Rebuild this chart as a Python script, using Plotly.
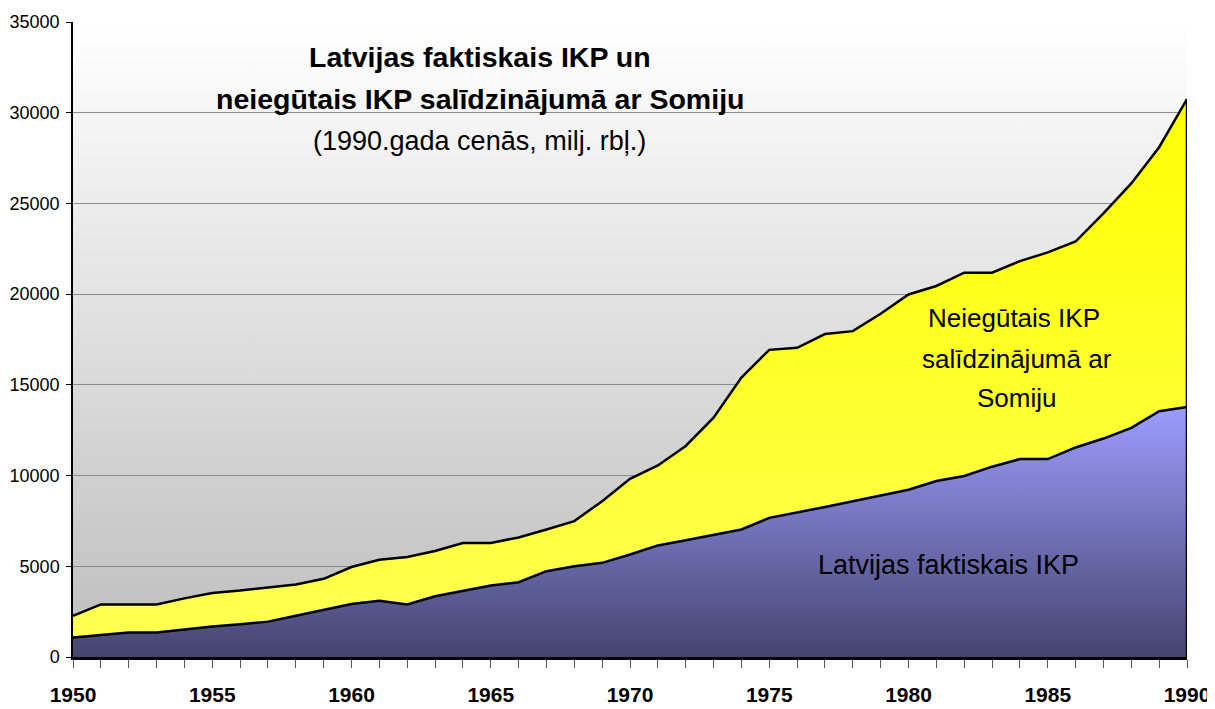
import base64
import plotly.graph_objects as go

years = list(range(1950, 1991))

# Latvijas faktiskais IKP (milj. rbļ., 1990. gada cenās)
latvija = [1080, 1220, 1350, 1350, 1530, 1680, 1810, 1950, 2270, 2610,
           2920, 3100, 2900, 3350, 3650, 3940, 4120, 4730, 5000, 5190,
           5650, 6150, 6440, 6750, 7030, 7670, 7990, 8270, 8580, 8900,
           9220, 9700, 9980, 10490, 10910, 10910, 11550, 12040, 12630, 13550,
           13780]

# IKP līmenis salīdzinājumā ar Somiju (augšējā līnija)
somija = [2270, 2900, 2900, 2900, 3230, 3530, 3660, 3810, 4000, 4310,
          4960, 5360, 5510, 5840, 6280, 6290, 6590, 7030, 7490, 8590,
          9820, 10560, 11630, 13190, 15400, 16930, 17040, 17800, 17960, 18920,
          19980, 20450, 21180, 21180, 21820, 22300, 22900, 24450, 26100, 28100,
          30750]

y_ticks = [0, 5000, 10000, 15000, 20000, 25000, 30000, 35000]
x_ticks = [1950, 1955, 1960, 1965, 1970, 1975, 1980, 1985, 1990]

FONT = "Liberation Sans, Arial, sans-serif"

# gray plot-area background gradient as an inline svg
svg = (
    '<svg xmlns="http://www.w3.org/2000/svg" width="10" height="100" preserveAspectRatio="none">'
    '<defs><linearGradient id="g" x1="0" y1="0" x2="0" y2="1">'
    '<stop offset="0" stop-color="#ffffff"/><stop offset="1" stop-color="#bdbdbd"/>'
    '</linearGradient></defs><rect width="10" height="100" fill="url(#g)"/></svg>'
)
bg_src = "data:image/svg+xml;base64," + base64.b64encode(svg.encode()).decode()

fig = go.Figure()

fig.add_trace(go.Scatter(
    x=years, y=latvija, mode="lines",
    line=dict(color="black", width=2.5),
    fill="tozeroy",
    fillgradient=dict(type="vertical", start=0, stop=max(latvija),
                      colorscale=[[0, "#45456f"], [1, "#9c9cff"]]),
    name="Latvijas faktiskais IKP",
))

fig.add_trace(go.Scatter(
    x=years, y=somija, mode="lines",
    line=dict(color="black", width=2.5),
    fill="tonexty",
    fillgradient=dict(type="vertical", start=0, stop=max(somija),
                      colorscale=[[0, "#ffff55"], [1, "#ffff00"]]),
    name="Neiegūtais IKP",
))

# right edge of the area
fig.add_trace(go.Scatter(
    x=[years[-1], years[-1]], y=[0, somija[-1]], mode="lines",
    line=dict(color="black", width=2.5), hoverinfo="skip",
))

# the page body adds an 8px offset, so the figure is 8px smaller
fig.update_layout(
    width=1207, height=701,
    margin=dict(l=65, r=28, t=14, b=52),
    paper_bgcolor="white",
    plot_bgcolor="white",
    showlegend=False,
    font=dict(family=FONT, color="black"),
    images=[dict(source=bg_src, xref="paper", yref="paper", x=0, y=1,
                 sizex=1, sizey=1, xanchor="left", yanchor="top",
                 sizing="stretch", layer="below")],
    xaxis=dict(
        range=[1950, 1990], tickvals=x_ticks, showgrid=False, zeroline=False,
        automargin=False,
        ticks="outside", ticklen=8, tickcolor="#555555", tickwidth=1,
        minor=dict(dtick=1, tick0=1950, ticks="outside", ticklen=8,
                   tickcolor="#555555", showgrid=False),
        showline=True, linecolor="black", linewidth=2.5,
        tickfont=dict(size=21, family=FONT, weight="bold"),
        ticklabelstandoff=9,
    ),
    yaxis=dict(
        range=[0, 35000], tickvals=y_ticks, tickformat="d", showgrid=True,
        automargin=False,
        gridcolor="#8c8c8c", gridwidth=1, zeroline=False,
        ticks="outside", ticklen=5, tickcolor="black",
        showline=True, linecolor="black", linewidth=1.5,
        tickfont=dict(size=18, family=FONT),
        ticklabelstandoff=3,
    ),
)


def label(text, x, y, size):
    fig.add_annotation(text=text, x=x, y=y, xref="paper", yref="paper",
                       xanchor="center", yanchor="middle", showarrow=False,
                       font=dict(size=size))


title_x = 0.365
label("<b>Latvijas faktiskais IKP un</b>", title_x, 0.945, 28.5)
label("<b>neiegūtais IKP salīdzinājumā ar Somiju</b>", title_x, 0.879, 28.5)
label("(1990.gada cenās, milj. rbļ.)", title_x, 0.813, 27)

label("Neiegūtais IKP", 0.845, 0.534, 26)
label("salīdzinājumā ar", 0.847, 0.469, 26)
label("Somiju", 0.847, 0.408, 26)

label("Latvijas faktiskais IKP", 0.7855, 0.145, 27)

fig.write_html("out.html")
